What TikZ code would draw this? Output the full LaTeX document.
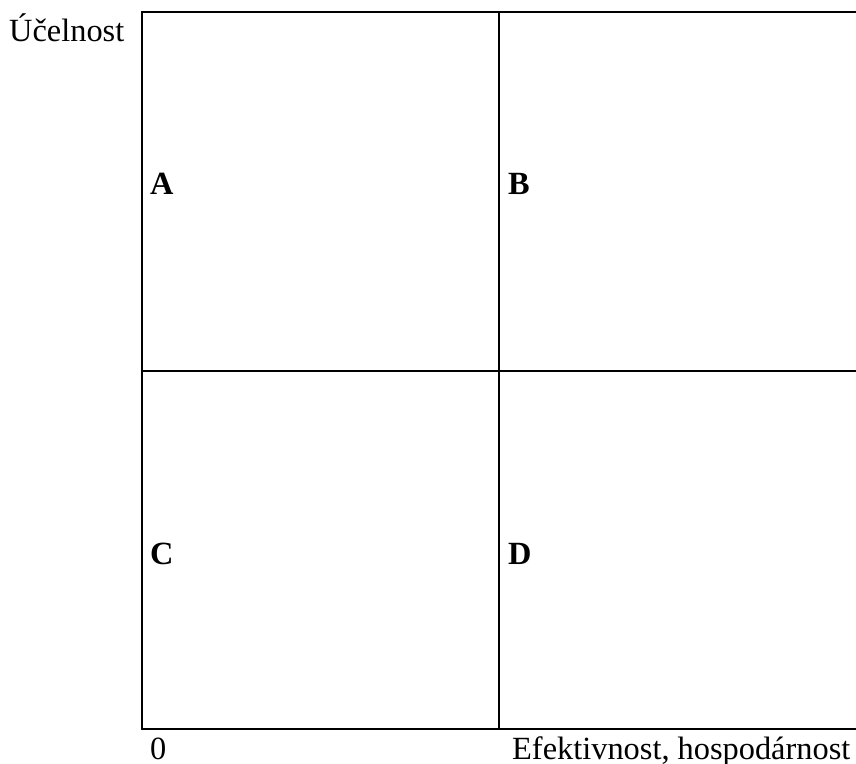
\documentclass[tikz,border=0pt]{standalone}
\usepackage{fontspec}
\setmainfont{Liberation Serif}
\begin{document}
\begin{tikzpicture}[x=1bp,y=-1bp,
  grid/.style={line width=2bp,black},
  lbl/.style={anchor=base west,inner sep=0pt,font=\fontsize{32.5}{39}\selectfont},
  quad/.style={lbl,font=\fontsize{32.5}{39}\selectfont\bfseries}]
\useasboundingbox (0,0) rectangle (856,764);
\draw[grid] (856,12) -- (142,12) -- (142,729) -- (856,729);
\draw[grid] (499,12) -- (499,729);
\draw[grid] (142,371) -- (856,371);
\node[lbl] (ucel) at (9,42) {Účelnost};
\node[lbl] (zero) at (150,759) {0};
\node[lbl] (efek) at (512,759) {Efektivnost, hospodárnost};
\node[quad] (A) at (150,194) {A};
\node[quad] (B) at (508,194) {B};
\node[quad] (C) at (150,564) {C};
\node[quad] (D) at (508,564) {D};
\end{tikzpicture}
\end{document}
